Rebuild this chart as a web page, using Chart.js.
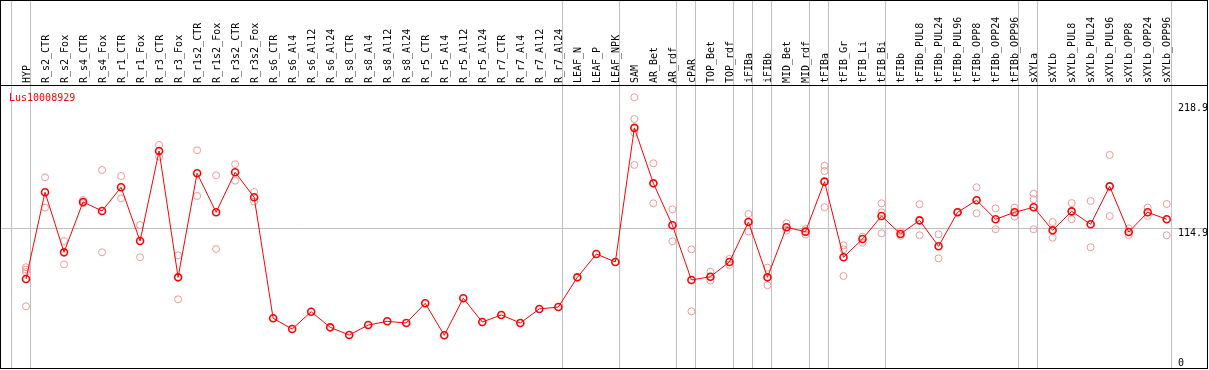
<!DOCTYPE html>
<html>
<head>
<meta charset="utf-8">
<script src="https://cdn.jsdelivr.net/npm/chart.js@4/dist/chart.umd.min.js"></script>
<style>
  html, body { margin: 0; padding: 0; background: #fff; }
  #chart { display: block; }
</style>
</head>
<body>
<canvas id="chart" width="1209" height="370"></canvas>
<script>
const geneName = 'Lus10008929';

const categories = [
  'HYP', 'R_s2_CTR', 'R_s2_Fox', 'R_s4_CTR', 'R_s4_Fox', 'R_r1_CTR', 'R_r1_Fox',
  'R_r3_CTR', 'R_r3_Fox', 'R_r1s2_CTR', 'R_r1s2_Fox', 'R_r3s2_CTR', 'R_r3s2_Fox',
  'R_s6_CTR', 'R_s6_Al4', 'R_s6_Al12', 'R_s6_Al24', 'R_s8_CTR', 'R_s8_Al4',
  'R_s8_Al12', 'R_s8_Al24', 'R_r5_CTR', 'R_r5_Al4', 'R_r5_Al12', 'R_r5_Al24',
  'R_r7_CTR', 'R_r7_Al4', 'R_r7_Al12', 'R_r7_Al24', 'LEAF_N', 'LEAF_P', 'LEAF_NPK',
  'SAM', 'AR_Bet', 'AR_rdf', 'cPAR', 'TOP_Bet', 'TOP_rdf', 'iFIBa', 'iFIBb',
  'MID_Bet', 'MID_rdf', 'tFIBa', 'tFIB_Gr', 'tFIB_Li', 'tFIB_Bi', 'tFIBb',
  'tFIBb_PUL8', 'tFIBb_PUL24', 'tFIBb_PUL96', 'tFIBb_OPP8', 'tFIBb_OPP24', 'tFIBb_OPP96',
  'sXYLa', 'sXYLb', 'sXYLb_PUL8', 'sXYLb_PUL24', 'sXYLb_PUL96', 'sXYLb_OPP8',
  'sXYLb_OPP24', 'sXYLb_OPP96'
];

// mean expression per sample
const meanValues = [
  72.7, 144.9, 94.9, 136.8, 129.3, 149.0, 104.3, 179.2, 74.1, 160.7, 128.2, 161.5, 140.7,
  40.0, 31.1, 45.5, 32.5, 26.1, 34.4, 37.5, 36.1, 52.5, 25.9, 56.7, 36.9,
  42.8, 36.1, 47.8, 49.4, 74.1, 93.5, 86.9,
  198.4, 152.3, 117.4, 71.9, 74.6, 86.9, 120.1, 74.1, 115.7, 112.1,
  153.7, 90.8, 106.0, 125.1, 110.2, 121.5, 99.9, 128.2, 138.2, 122.4, 128.2,
  132.4, 113.2, 129.0, 118.2, 149.8, 111.8, 128.2, 122.4
];

// individual replicates (null = no replicate shown)
const rep1 = [
  82.5, 157.3, 104.3, 138.4, 163.4, 158.4, 117.6, 184.2, 92.4, 179.8, 159.0, 168.2, 145.1,
  null, null, null, null, null, null, null, null, null, null, null, null,
  null, null, null, null, null, null, null,
  223.9, 169.0, 130.7, 97.4, 78.8, 89.4, 126.8, 82.1, 119.1, 114.3,
  167.0, 100.8, 107.9, 135.7, 112.1, 134.9, 109.9, 128.6, 149.0, 131.5, 132.1,
  143.7, 120.1, 135.9, 137.6, 175.9, 114.9, 132.1, 135.1
];
const rep2 = [
  80.5, 132.1, 84.9, 135.7, 94.9, 139.8, 90.8, 174.5, 55.8, 141.8, 97.7, 154.5, 137.1,
  null, null, null, null, null, null, null, null, null, null, null, null,
  null, null, null, null, null, null, null,
  205.8, 135.7, 104.1, 45.8, 71.3, 84.4, 112.1, 67.5, 112.9, 109.6,
  162.6, 97.4, 102.9, 128.2, 108.5, 109.1, 89.9, 127.8, 127.4, 114.1, 124.6,
  139.0, 107.1, 122.4, 99.1, 125.1, 109.3, 125.1, 109.1
];
const rep3 = [
  78.5, null, null, null, null, null, null, null, null, null, null, null, null,
  null, null, null, null, null, null, null, null, null, null, null, null,
  null, null, null, null, null, null, null,
  194.4, null, null, null, null, null, null, null, null, null,
  132.4, 75.2, null, 110.7, null, null, null, null, null, null, null,
  114.1, null, null, null, null, null, null, null
];
const rep4 = [
  50.0, null, null, null, null, null, null, null, null, null, null, null, null,
  null, null, null, null, null, null, null, null, null, null, null, null,
  null, null, null, null, null, null, null,
  167.6, null, null, null, null, null, null, null, null, null,
  null, null, null, null, null, null, null, null, null, null, null,
  null, null, null, null, null, null, null
];

// group separators are drawn just after these sample indices
const groupEnds = [-1, 0, 28, 31, 34, 35, 37, 38, 39, 41, 42, 45, 52, 53, 60];

const yTicks = [218.9, 114.9, 0];
const gridValue = 114.9;

const monoFont = '10px "DejaVu Sans Mono", "Liberation Mono", monospace';

const framePlugin = {
  id: 'frame',
  beforeDatasetsDraw(chart) {
    const { ctx, scales: { x, y }, chartArea } = chart;
    const step = x.getPixelForValue(1) - x.getPixelForValue(0);
    ctx.save();
    ctx.strokeStyle = '#c0c0c0';
    ctx.lineWidth = 1;
    groupEnds.forEach(i => {
      const px = Math.round(x.getPixelForValue(i) + step * 0.2) + 0.5;
      ctx.beginPath();
      ctx.moveTo(px, 0);
      ctx.lineTo(px, chartArea.bottom);
      ctx.stroke();
    });
    const gy = Math.round(y.getPixelForValue(gridValue)) + 0.5;
    ctx.beginPath();
    ctx.moveTo(0, gy);
    ctx.lineTo(1207, gy);
    ctx.stroke();
    ctx.restore();
  },
  afterDraw(chart) {
    const { ctx, scales: { y }, chartArea } = chart;
    ctx.save();
    ctx.strokeStyle = '#000';
    ctx.lineWidth = 1;
    ctx.strokeRect(0.5, 0.5, 1207, Math.round(chartArea.bottom));
    ctx.beginPath();
    ctx.moveTo(0, chartArea.top + 0.5);
    ctx.lineTo(1207, chartArea.top + 0.5);
    ctx.stroke();

    ctx.font = monoFont;
    ctx.fillStyle = '#ff0000';
    ctx.textBaseline = 'top';
    ctx.textAlign = 'left';
    ctx.fillText(geneName, 9, chartArea.top + 8);

    ctx.fillStyle = '#000';
    yTicks.forEach(v => {
      let ty = y.getPixelForValue(v);
      ty = Math.min(ty, chartArea.bottom - 10);
      ctx.fillText(String(v), 1178, ty);
    });
    ctx.restore();
  }
};

const repStyle = {
  showLine: false,
  clip: false,
  borderColor: '#ee9999',
  backgroundColor: 'rgba(0,0,0,0)',
  pointRadius: 3.5,
  pointBorderWidth: 1,
  pointBorderColor: '#ee9999',
  pointBackgroundColor: 'rgba(0,0,0,0)'
};

new Chart(document.getElementById('chart'), {
  type: 'line',
  data: {
    labels: categories,
    datasets: [
      {
        label: geneName,
        data: meanValues,
        borderColor: '#ff0000',
        borderWidth: 1,
        pointRadius: 3.5,
        pointBorderWidth: 1.6,
        pointBorderColor: '#ff0000',
        pointBackgroundColor: 'rgba(0,0,0,0)',
        tension: 0,
        clip: false
      },
      Object.assign({ label: 'rep1', data: rep1 }, repStyle),
      Object.assign({ label: 'rep2', data: rep2 }, repStyle),
      Object.assign({ label: 'rep3', data: rep3 }, repStyle),
      Object.assign({ label: 'rep4', data: rep4 }, repStyle)
    ]
  },
  options: {
    responsive: false,
    animation: false,
    layout: { autoPadding: false, padding: { left: 26, right: 42.3, top: 0, bottom: 2 } },
    plugins: {
      legend: { display: false },
      tooltip: { enabled: false }
    },
    scales: {
      x: {
        type: 'category',
        position: 'top',
        offset: false,
        grid: { display: false, drawTicks: false },
        border: { display: false },
        ticks: {
          autoSkip: false,
          minRotation: 90,
          maxRotation: 90,
          padding: 2,
          labelOffset: 13,
          color: '#000',
          font: { family: '"DejaVu Sans Mono", "Liberation Mono", monospace', size: 10 }
        },
        afterFit(scale) { scale.height = 85; }
      },
      y: {
        display: false,
        min: -1.33,
        max: 234.1
      }
    }
  },
  plugins: [framePlugin]
});
</script>
</body>
</html>
